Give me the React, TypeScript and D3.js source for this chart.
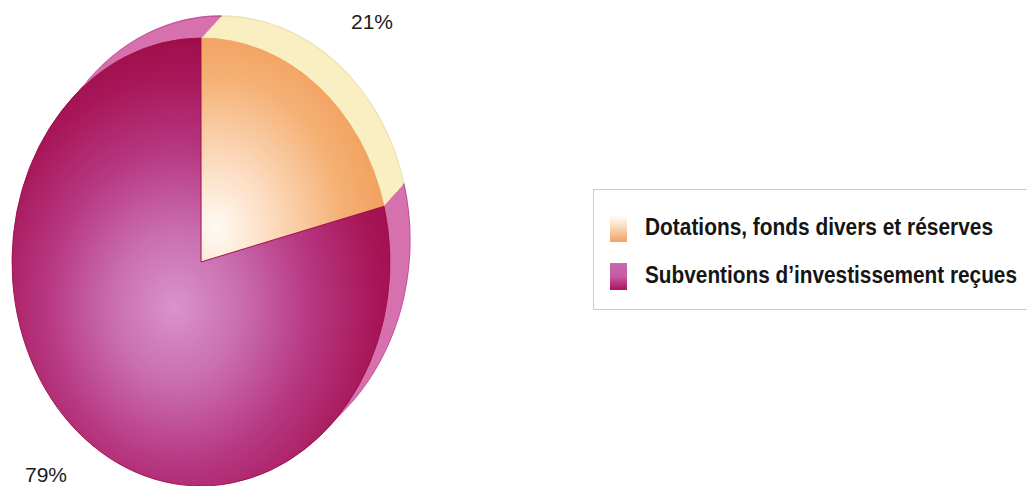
import { useEffect, useRef } from 'react';
import * as d3 from 'd3';

const categories = ['Dotations, fonds divers et réserves', 'Subventions d\u2019investissement reçues'];
const values = [21, 79];
const percentLabels = ['21%', '79%'];

const W = 1027;
const H = 486;
const CX = 201;
const CY = 262;
const RX = 189;
const RY = 224;
const DEPTH = { dx: 20, dy: -22 };
const STEPS = 24;

const FACE_FILL = ['url(#faceOrange)', 'url(#faceMagenta)'];
const SIDE_FILL = ['#f9efc2', '#d672ae'];
const SWATCH_FILL = ['url(#swOrange)', 'url(#swMagenta)'];
// label placement, in ellipse units from the centre
const LABEL_SPOT = [
  { x: 0.905, y: -1.04 },
  { x: -0.82, y: 0.98 },
];

export default function App() {
  const svgRef = useRef<SVGSVGElement>(null);

  useEffect(() => {
    if (!svgRef.current) return;
    const svg = d3.select(svgRef.current);
    svg.selectAll('*').remove();

    const defs = svg.append('defs');

    const mag = defs.append('radialGradient')
      .attr('id', 'faceMagenta')
      .attr('cx', 0.45).attr('cy', 0.6).attr('r', 0.6)
      .attr('fx', 0.43).attr('fy', 0.6);
    [['0', '#d894ca'], ['0.28', '#ca6eb0'], ['0.58', '#b73882'], ['0.85', '#a8175a'], ['1', '#9e0f49']]
      .forEach(([o, c]) => mag.append('stop').attr('offset', o).attr('stop-color', c));

    const ora = defs.append('radialGradient')
      .attr('id', 'faceOrange')
      .attr('cx', 0.08).attr('cy', 0.88).attr('r', 1.0)
      .attr('fx', 0.08).attr('fy', 0.85);
    [['0', '#fffaf4'], ['0.3', '#fcdcc0'], ['0.7', '#f5b074'], ['1', '#f19c58']]
      .forEach(([o, c]) => ora.append('stop').attr('offset', o).attr('stop-color', c));

    const swO = defs.append('linearGradient').attr('id', 'swOrange')
      .attr('x1', 0).attr('y1', 0).attr('x2', 0).attr('y2', 1);
    [['0', '#ffffff'], ['0.35', '#fbe3cc'], ['1', '#f2a260']]
      .forEach(([o, c]) => swO.append('stop').attr('offset', o).attr('stop-color', c));

    const swM = defs.append('linearGradient').attr('id', 'swMagenta')
      .attr('x1', 0).attr('y1', 0).attr('x2', 0).attr('y2', 1);
    [['0', '#c56bb0'], ['0.5', '#c65aa4'], ['1', '#a8145a']]
      .forEach(([o, c]) => swM.append('stop').attr('offset', o).attr('stop-color', c));

    const pie = d3.pie<number>().sort(null).value(d => d);
    const arcs = pie(values);
    const arc = d3.arc<d3.PieArcDatum<number>>().innerRadius(0).outerRadius(RX);
    const sy = RY / RX;

    // Thickness: stacked copies pushed back along the depth vector
    for (let s = STEPS; s >= 1; s--) {
      const t = s / STEPS;
      const layer = svg.append('g')
        .attr('transform', `translate(${CX + DEPTH.dx * t},${CY + DEPTH.dy * t}) scale(1,${sy})`);
      arcs.forEach((a, i) => {
        layer.append('path')
          .attr('d', arc(a) as string)
          .attr('fill', SIDE_FILL[i])
          .attr('stroke', s === STEPS ? (i === 0 ? '#efe2b0' : '#c4559a') : 'none')
          .attr('stroke-width', 1.2);
      });
    }

    // Top face
    const face = svg.append('g')
      .attr('transform', `translate(${CX},${CY}) scale(1,${sy})`);
    arcs.forEach((a, i) => {
      face.append('path')
        .attr('d', arc(a) as string)
        .attr('fill', FACE_FILL[i])
        .attr('stroke', i === 1 ? '#9a0d45' : '#e9a46a')
        .attr('stroke-width', 0.8);
    });

    // Percent labels
    arcs.forEach((a, i) => {
      svg.append('text')
        .attr('x', CX + RX * LABEL_SPOT[i].x)
        .attr('y', CY + RY * LABEL_SPOT[i].y)
        .attr('text-anchor', 'middle')
        .attr('font-family', 'Liberation Sans, Arial, sans-serif')
        .attr('font-size', 21)
        .attr('fill', '#1c1c1c')
        .text(percentLabels[i]);
    });

    // Legend
    const legend = svg.append('g').attr('transform', 'translate(593,189)');
    legend.append('rect')
      .attr('x', 0.5).attr('y', 0.5)
      .attr('width', W - 593 + 10).attr('height', 120)
      .attr('fill', '#ffffff')
      .attr('stroke', '#c9ccd3')
      .attr('stroke-width', 1);

    const rowY = d3.scalePoint<string>().domain(categories).range([46, 94]);
    const textW = [348, 372];
    categories.forEach((c, i) => {
      const by = rowY(c) as number;
      legend.append('rect')
        .attr('x', 17).attr('y', by - 20)
        .attr('width', 17).attr('height', 27)
        .attr('fill', SWATCH_FILL[i]);
      legend.append('text')
        .attr('x', 52).attr('y', by)
        .attr('font-family', 'Liberation Sans, Arial, sans-serif')
        .attr('font-weight', 'bold')
        .attr('font-size', 23)
        .attr('fill', '#151515')
        .attr('textLength', textW[i])
        .attr('lengthAdjust', 'spacingAndGlyphs')
        .text(c);
    });
  }, []);

  return (
    <svg
      ref={svgRef}
      width={W}
      height={H}
      style={{ position: 'absolute', left: 0, top: 0, background: '#ffffff' }}
    />
  );
}
